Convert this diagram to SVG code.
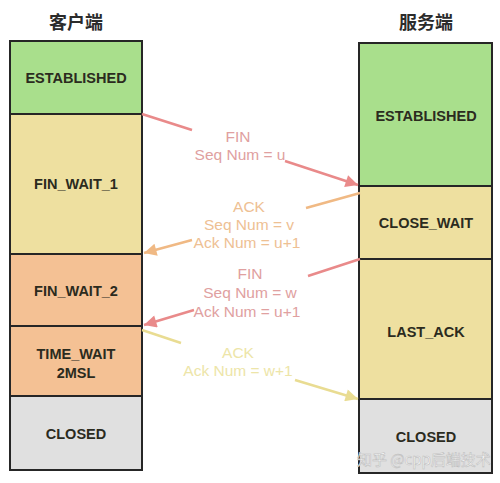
<svg xmlns="http://www.w3.org/2000/svg" width="500" height="483" viewBox="0 0 500 483">
<defs>
<style>
.box{stroke:#262626;stroke-width:2}
.st{font-family:"Liberation Sans",Arial,sans-serif;font-weight:bold;font-size:14.5px;fill:#2b2b1e;text-anchor:middle}
.title{font-family:"Noto Sans CJK SC",sans-serif;font-weight:bold;font-size:18px;fill:#2b2b2b;text-anchor:middle}
.lb{font-family:"Liberation Sans",Arial,sans-serif;font-size:15.5px;text-anchor:middle}
.green{fill:#a9df8c}.yellow{fill:#eee0a0}.orange{fill:#f4c194}.gray{fill:#e0e0e0}
</style>
<marker id="aRed" viewBox="0 0 10 10" refX="10" refY="5" markerWidth="5.5" markerHeight="5" orient="auto" markerUnits="strokeWidth"><path d="M0,0L10,5L0,10z" fill="#e98a8a"/></marker>
<marker id="aOr" viewBox="0 0 10 10" refX="10" refY="5" markerWidth="5.5" markerHeight="5" orient="auto" markerUnits="strokeWidth"><path d="M0,0L10,5L0,10z" fill="#f0b984"/></marker>
<marker id="aYe" viewBox="0 0 10 10" refX="10" refY="5" markerWidth="5.5" markerHeight="5" orient="auto" markerUnits="strokeWidth"><path d="M0,0L10,5L0,10z" fill="#e9dc92"/></marker>
</defs>
<rect width="500" height="483" fill="#ffffff"/>
<text class="title" x="76" y="29">客户端</text>
<text class="title" x="426" y="29">服务端</text>
<g id="c-established"><rect class="box green" x="10" y="41" width="132" height="73"/><text class="st" x="76" y="83">ESTABLISHED</text></g>
<g id="c-finwait1"><rect class="box yellow" x="10" y="114" width="132" height="140"/><text class="st" x="76" y="189">FIN_WAIT_1</text></g>
<g id="c-finwait2"><rect class="box orange" x="10" y="254" width="132" height="72"/><text class="st" x="76" y="296">FIN_WAIT_2</text></g>
<g id="c-timewait"><rect class="box orange" x="10" y="326" width="132" height="70"/><text class="st" x="76" y="359">TIME_WAIT</text><text class="st" x="76" y="378">2MSL</text></g>
<g id="c-closed"><rect class="box gray" x="10" y="396" width="132" height="74"/><text class="st" x="76" y="439">CLOSED</text></g>
<g id="s-established"><rect class="box green" x="359" y="43" width="133" height="143"/><text class="st" x="426" y="121">ESTABLISHED</text></g>
<g id="s-closewait"><rect class="box yellow" x="359" y="186" width="133" height="73"/><text class="st" x="426" y="228">CLOSE_WAIT</text></g>
<g id="s-lastack"><rect class="box yellow" x="359" y="259" width="133" height="140"/><text class="st" x="426" y="337">LAST_ACK</text></g>
<g id="s-closed"><rect class="box gray" x="359" y="399" width="133" height="74"/><text class="st" x="426" y="442">CLOSED</text></g>
<g id="connectors" fill="none" stroke-width="2.5">
<line x1="142" y1="114" x2="192" y2="130" stroke="#e98a8a"/>
<line x1="285" y1="161" x2="358" y2="185" stroke="#e98a8a" marker-end="url(#aRed)"/>
<line x1="360" y1="193" x2="306" y2="208" stroke="#f0b984"/>
<line x1="192" y1="240" x2="144" y2="253" stroke="#f0b984" marker-end="url(#aOr)"/>
<line x1="360" y1="259" x2="308" y2="276" stroke="#e98a8a"/>
<line x1="194" y1="310" x2="144" y2="325" stroke="#e98a8a" marker-end="url(#aRed)"/>
<line x1="142" y1="330" x2="181" y2="343" stroke="#e9dc92"/>
<line x1="295" y1="380" x2="358" y2="399" stroke="#e9dc92" marker-end="url(#aYe)"/>
</g>
<g id="labels">
<text class="lb" x="238" y="142" fill="#e0a0a0">FIN</text>
<text class="lb" x="240" y="160" fill="#e0a0a0">Seq Num = u</text>
<text class="lb" x="249" y="212" fill="#eec093">ACK</text>
<text class="lb" x="249" y="230" fill="#eec093">Seq Num = v</text>
<text class="lb" x="247" y="248" fill="#eec093">Ack Num = u+1</text>
<text class="lb" x="250" y="279" fill="#e0a0a0">FIN</text>
<text class="lb" x="250" y="298" fill="#e0a0a0">Seq Num = w</text>
<text class="lb" x="247" y="317" fill="#e0a0a0">Ack Num = u+1</text>
<text class="lb" x="238" y="358" fill="#ede5a8">ACK</text>
<text class="lb" x="238" y="376" fill="#ede5a8">Ack Num = w+1</text>
</g>
<text x="357" y="465" font-family="Noto Sans CJK SC,sans-serif" font-size="15" fill="#ffffff" stroke="#bdbdbd" stroke-width="0.6" opacity="0.95">知乎 @cpp后端技术</text>
</svg>
